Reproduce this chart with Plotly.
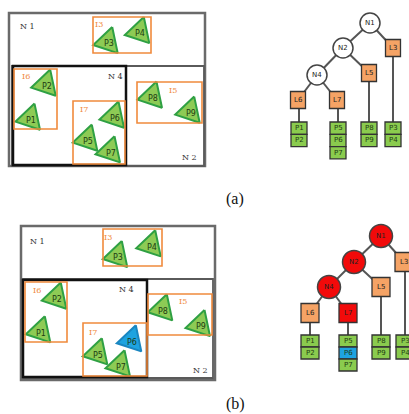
import plotly.graph_objects as go

# ---------------- data: panel (a) ----------------
a_rect_names = ["N1", "N2", "N4", "I3", "I6", "I7", "I5"]
a_rect_x0 = [9, 12, 13, 93, 14, 73, 137]
a_rect_y0 = [13, 66, 66, 17, 69, 101, 82]
a_rect_x1 = [205, 204, 126, 151, 57, 125, 202]
a_rect_y1 = [166, 166, 165, 53, 129, 164, 123]
a_label_x = [27, 189, 115, 99, 26, 84, 173]
a_label_y = [26, 157, 76, 24, 76, 109, 90]
a_label_text = ["N 1", "N 2", "N 4", "I3", "I6", "I7", "I5"]

a_pt_names = ["P1", "P2", "P3", "P4", "P5", "P6", "P7", "P8", "P9"]
a_pt_x = [30, 45.7, 107.7, 139.3, 87.3, 114, 110, 152, 189.7]
a_pt_y = [118.3, 84.3, 41.7, 31.7, 139.3, 116.3, 151, 96.3, 111.3]

# ---------------- data: panel (b) ----------------
b_rect_names = ["N1", "N2", "N4", "I3", "I6", "I7", "I5"]
b_rect_x0 = [21, 23, 23, 103, 25, 83, 148]
b_rect_y0 = [226, 279, 280, 229, 282, 323, 294]
b_rect_x1 = [215, 213, 147, 162, 67, 147, 212]
b_rect_y1 = [380, 378, 377, 266, 342, 376, 335]
b_label_x = [37, 200, 126, 108, 37, 93, 183]
b_label_y = [241, 370, 289, 237, 290, 332, 301]
b_label_text = ["N 1", "N 2", "N 4", "I3", "I6", "I7", "I5"]

b_pt_names = ["P1", "P2", "P3", "P4", "P5", "P6", "P7", "P8", "P9"]
b_pt_x = [40.3, 56.3, 117.3, 150.7, 97.3, 131.3, 120, 162.3, 200]
b_pt_y = [331, 297.3, 255.7, 245, 353, 340, 365, 309, 324.7]
b_pt_hit = ["P6"]

# ---------------- data: trees ----------------
ta_nodes = ["N1", "N2", "L3", "N4", "L5", "L6", "L7"]
ta_x = [370, 343, 393, 317, 369, 298, 337]
ta_y = [23, 48, 48, 75, 73, 100, 100]
ta_kind = ["c", "c", "s", "c", "s", "s", "s"]
ta_edges = [("N1", "N2"), ("N1", "L3"), ("N2", "N4"), ("N2", "L5"), ("N4", "L6"), ("N4", "L7")]
ta_leaf_parent = ["L6", "L7", "L5", "L3"]
ta_leaf_labels = [["P1", "P2"], ["P5", "P6", "P7"], ["P8", "P9"], ["P3", "P4"]]
ta_leaf_x = [299, 338, 369, 393]
ta_leaf_top = 122

tb_nodes = ["N1", "N2", "L3", "N4", "L5", "L6", "L7"]
tb_x = [381, 354, 404, 329, 381, 310, 348]
tb_y = [236, 262, 262, 287, 287, 313, 313]
tb_kind = ["c", "c", "s", "c", "s", "s", "s"]
tb_hit = ["N1", "N2", "N4", "L7"]
tb_edges = [("N1", "N2"), ("N1", "L3"), ("N2", "N4"), ("N2", "L5"), ("N4", "L6"), ("N4", "L7")]
tb_leaf_parent = ["L6", "L7", "L5", "L3"]
tb_leaf_labels = [["P1", "P2"], ["P5", "P6", "P7"], ["P8", "P9"], ["P3", "P4"]]
tb_leaf_x = [310, 348, 381, 405]
tb_leaf_top = 335

captions = ["(a)", "(b)"]
caption_x = [235, 235]
caption_y = [199, 404]

# ---------------- styles ----------------
ORANGE_LINE = "#F08a3c"
ORANGE_FILL = "#F5A365"
GREEN_FILL = "#8DCB55"
GREEN_LINE = "#2FA043"
LEAF_FILL = "#8ACB4E"
BLUE_FILL = "#1EA3E0"
RED_FILL = "#F20A0A"
TRI = [(4.5, -14.7), (-14.5, 3.3), (10.0, 11.4)]

fig = go.Figure()
shapes = []
annotations = []


def label(x, y, t, size, color, family="DejaVu Sans"):
    annotations.append(dict(x=x, y=y, xref="x", yref="y", text=t, showarrow=False,
                            xanchor="center", yanchor="middle",
                            font=dict(family=family, size=size, color=color)))


def add_panel(names, x0, y0, x1, y1, lx, ly, lt, pnames, px, py, hit):
    for n, a, b, c, d in zip(names, x0, y0, x1, y1):
        if n == "N1":
            col, w = "#6a6a6a", 2.5
        elif n == "N2":
            col, w = "#5a5a5a", 1.8
        elif n == "N4":
            col, w = "#111111", 2.5
        else:
            col, w = ORANGE_LINE, 1.6
        shapes.append(dict(type="rect", xref="x", yref="y", x0=a, y0=b, x1=c, y1=d,
                           line=dict(color=col, width=w), fillcolor="rgba(0,0,0,0)"))
    for x, y, t in zip(lx, ly, lt):
        isI = t.startswith("I")
        label(x, y, t, 8, ORANGE_LINE if isI else "#333333", "DejaVu Serif")
    for n, x, y in zip(pnames, px, py):
        xs = [x + d[0] for d in TRI] + [x + TRI[0][0]]
        ys = [y + d[1] for d in TRI] + [y + TRI[0][1]]
        blue = n in hit
        fig.add_trace(go.Scatter(x=xs, y=ys, mode="lines", fill="toself",
                                 fillcolor=BLUE_FILL if blue else GREEN_FILL,
                                 line=dict(color="#1a86c0" if blue else GREEN_LINE, width=2),
                                 hoverinfo="skip", showlegend=False))
        label(x + 1, y + 2, n, 8, "#1d3b12")


def add_tree(nodes, nx, ny, kind, edges, hit, lparent, llabels, lx, ltop, leafhit, r, sq_w, sq_h, bw, bh):
    pos = {n: (x, y) for n, x, y in zip(nodes, nx, ny)}
    for a, b in edges:
        (xa, ya), (xb, yb) = pos[a], pos[b]
        fig.add_trace(go.Scatter(x=[xa, xb], y=[ya, yb], mode="lines",
                                 line=dict(color="#555555", width=2),
                                 hoverinfo="skip", showlegend=False))
    for p, x in zip(lparent, lx):
        px, py = pos[p]
        fig.add_trace(go.Scatter(x=[x, x], y=[py, ltop], mode="lines",
                                 line=dict(color="#555555", width=2),
                                 hoverinfo="skip", showlegend=False))
    for n, k in zip(nodes, kind):
        x, y = pos[n]
        red = n in hit
        if k == "c":
            shapes.append(dict(type="circle", xref="x", yref="y", x0=x - r, x1=x + r, y0=y - r, y1=y + r,
                               fillcolor=RED_FILL if red else "white",
                               line=dict(color="#444444", width=1.5)))
        else:
            shapes.append(dict(type="rect", xref="x", yref="y", x0=x - sq_w / 2, x1=x + sq_w / 2,
                               y0=y - sq_h / 2, y1=y + sq_h / 2,
                               fillcolor=RED_FILL if red else ORANGE_FILL,
                               line=dict(color="#333333", width=1.3)))
        label(x, y, n, 7, "#222222")
    for labels, x in zip(llabels, lx):
        for i, t in enumerate(labels):
            y0 = ltop + i * bh
            shapes.append(dict(type="rect", xref="x", yref="y", x0=x - bw / 2, x1=x + bw / 2,
                               y0=y0, y1=y0 + bh,
                               fillcolor=BLUE_FILL if t in leafhit else LEAF_FILL,
                               line=dict(color="#333333", width=1.3)))
            label(x, y0 + bh / 2, t, 7, "#1d3b12")


add_panel(a_rect_names, a_rect_x0, a_rect_y0, a_rect_x1, a_rect_y1, a_label_x, a_label_y, a_label_text,
          a_pt_names, a_pt_x, a_pt_y, [])
add_panel(b_rect_names, b_rect_x0, b_rect_y0, b_rect_x1, b_rect_y1, b_label_x, b_label_y, b_label_text,
          b_pt_names, b_pt_x, b_pt_y, b_pt_hit)
add_tree(ta_nodes, ta_x, ta_y, ta_kind, ta_edges, [], ta_leaf_parent, ta_leaf_labels, ta_leaf_x,
         ta_leaf_top, [], 10, 15, 17, 16, 12.3)
add_tree(tb_nodes, tb_x, tb_y, tb_kind, tb_edges, tb_hit, tb_leaf_parent, tb_leaf_labels, tb_leaf_x,
         tb_leaf_top, b_pt_hit, 11.5, 18, 19, 18, 12)

for t, x, y in zip(captions, caption_x, caption_y):
    label(x, y, t, 16, "#111111", "Liberation Serif")

fig.update_layout(
    width=409, height=414,
    margin=dict(l=0, r=0, t=0, b=0),
    paper_bgcolor="white", plot_bgcolor="white",
    showlegend=False,
    shapes=shapes, annotations=annotations,
    xaxis=dict(range=[0, 409], visible=False, fixedrange=True),
    yaxis=dict(range=[414, 0], visible=False, fixedrange=True),
)
fig.write_html("out.html", config={"displayModeBar": False},
               post_script="document.body.style.margin='0';document.body.style.overflow='hidden';")
